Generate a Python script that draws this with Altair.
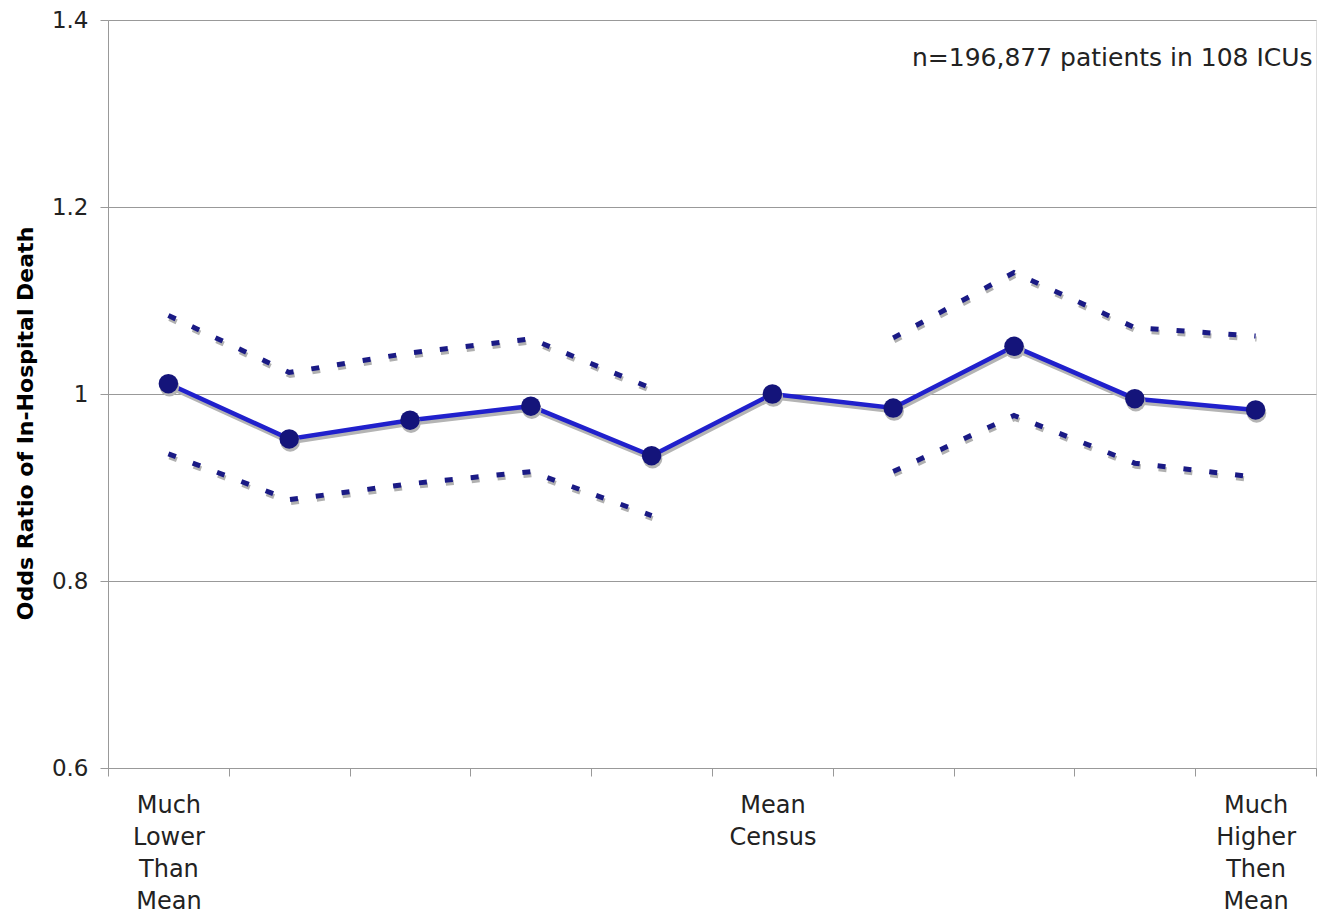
import altair as alt
import pandas as pd

# ---- data ----
categories = [1, 2, 3, 4, 5, 6, 7, 8, 9, 10]
odds_ratio = [1.011, 0.952, 0.972, 0.987, 0.934, 1.000, 0.985, 1.051, 0.995, 0.983]
upper_ci = [1.084, 1.023, 1.044, 1.059, 1.006, None, 1.060, 1.130, 1.071, 1.062]
lower_ci = [0.936, 0.887, 0.904, 0.917, 0.870, None, 0.917, 0.977, 0.926, 0.911]
ci_segment = ["a", "a", "a", "a", "a", None, "b", "b", "b", "b"]
x_labels = {1: "Much\nLower\nThan\nMean", 6: "Mean\nCensus", 10: "Much\nHigher\nThen\nMean"}
y_ticks = [0.6, 0.8, 1.0, 1.2, 1.4]
note = "n=196,877 patients in 108 ICUs"

FONT = "DejaVu Sans"

main_df = pd.DataFrame({"cat": categories, "or": odds_ratio})
ci_rows = []
for c, u, l, s in zip(categories, upper_ci, lower_ci, ci_segment):
    if u is not None:
        ci_rows.append({"cat": c, "val": u, "seg": "u" + s})
    if l is not None:
        ci_rows.append({"cat": c, "val": l, "seg": "l" + s})
ci_df = pd.DataFrame(ci_rows)

label_expr = "{" + ",".join(
    f"'{k}': split('{v.replace(chr(10), '|')}', '|')" for k, v in x_labels.items()
) + "}[datum.value] || ''"

x_scale = alt.Scale(type="band", domain=categories, paddingInner=0, paddingOuter=0)
y_scale = alt.Scale(domain=[0.6, 1.4], nice=False, zero=False)

x_enc = alt.X(
    "cat:O",
    scale=x_scale,
    bandPosition=0.5,
    axis=alt.Axis(
        title=None,
        labelAngle=0,
        tickBand="extent",
        labelExpr=label_expr,
        labelFont=FONT,
        labelFontSize=24,
        labelColor="#222222",
        labelLineHeight=32,
        labelPadding=17,
        labelBaseline="top",
        domainColor="#999999",
        tickColor="#999999",
        tickSize=8,
        grid=False,
    ),
)

y_axis = alt.Axis(
    title="Odds Ratio of In-Hospital Death",
    titleFont=FONT,
    titleFontSize=22,
    titleFontWeight="bold",
    titleColor="#000000",
    titlePadding=14,
    titleY=403,
    values=y_ticks,
    labelExpr="format(datum.value, '~g')",
    labelFont=FONT,
    labelFontSize=23,
    labelColor="#222222",
    labelPadding=12,
    domainColor="#999999",
    tickColor="#999999",
    tickSize=8,
    grid=True,
    gridColor="#999999",
    gridWidth=1,
)

base_main = alt.Chart(main_df)
base_ci = alt.Chart(ci_df)

ci_shadow = base_ci.mark_line(
    color="#b0b0b0", strokeWidth=5, strokeDash=[8, 18], xOffset=1, yOffset=3
).encode(x=x_enc, y=alt.Y("val:Q", scale=y_scale, axis=y_axis), detail="seg:N")

ci_line = base_ci.mark_line(
    color="#1a1a85", strokeWidth=5, strokeDash=[8, 18]
).encode(x=x_enc, y=alt.Y("val:Q", scale=y_scale, axis=y_axis), detail="seg:N")

main_shadow = base_main.mark_line(
    color="#b4b4b4", strokeWidth=5, xOffset=1, yOffset=3
).encode(x=x_enc, y=alt.Y("or:Q", scale=y_scale, axis=y_axis))

main_line = base_main.mark_line(color="#2020cc", strokeWidth=4.5).encode(
    x=x_enc, y=alt.Y("or:Q", scale=y_scale, axis=y_axis)
)

pts_shadow = base_main.mark_circle(
    color="#b4b4b4", size=380, opacity=1, xOffset=1, yOffset=3
).encode(x=x_enc, y=alt.Y("or:Q", scale=y_scale, axis=y_axis))

pts = base_main.mark_circle(color="#14147a", size=380, opacity=1).encode(
    x=x_enc, y=alt.Y("or:Q", scale=y_scale, axis=y_axis)
)

note_df = pd.DataFrame({"cat": [10], "v": [1.4], "t": [note]})
note_layer = alt.Chart(note_df).mark_text(
    font=FONT, fontSize=25, color="#222222", align="right", baseline="middle",
    dx=57, dy=38,
).encode(x=x_enc, y=alt.Y("v:Q", scale=y_scale, axis=y_axis), text="t:N")

chart = (
    alt.layer(ci_shadow, ci_line, main_shadow, main_line, pts_shadow, pts, note_layer)
    .properties(
        width=1208,
        height=748,
        padding={"left": 6, "top": 1, "right": 5, "bottom": 0},
    )
    .configure_view(stroke=None)
    .configure(background="white")
)

chart.save("out.html", embed_options={"renderer": "svg", "actions": False})
